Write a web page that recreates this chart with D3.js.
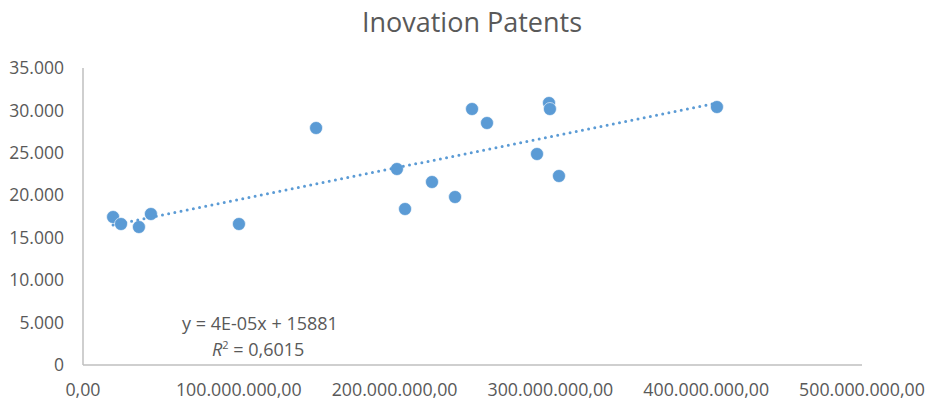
<!DOCTYPE html>
<html><head><meta charset="utf-8">
<script src="https://cdn.jsdelivr.net/npm/d3@7"></script>
<style>body{margin:0;background:#fff}svg{display:block}text{font-family:"Open Sans",sans-serif;fill:#595959}</style>
</head><body><svg id="c" width="927" height="401"></svg>
<script>
const title = "Inovation Patents";
const xValues = [19.3e6, 24.4e6, 35.9e6, 43.6e6, 100.1e6, 149.6e6, 201.5e6, 206.7e6, 224.0e6, 238.8e6, 249.7e6, 259.3e6, 291.4e6, 299.1e6, 299.7e6, 305.5e6, 406.9e6];
const yValues = [17440, 16616, 16262, 17794, 16616, 27929, 23097, 18383, 21565, 19797, 30167, 28518, 24865, 30874, 30167, 22272, 30403];
const xTicks = [0, 100e6, 200e6, 300e6, 400e6, 500e6];
const yTicks = [0, 5000, 10000, 15000, 20000, 25000, 30000, 35000];
const equationText = "y = 4E-05x + 15881";
const r2Text = "0,6015";

const svg = d3.select("#c");
const x = d3.scaleLinear().domain([0, 500e6]).range([83, 862]);
const y = d3.scaleLinear().domain([0, 35000]).range([365, 68]);

const fmtY = v => v === 0 ? "0" : d3.format(",")(v).replace(/,/g, ".");
const fmtX = v => v === 0 ? "0,00" : d3.format(",")(v).replace(/,/g, ".") + ",00";

svg.append("text").attr("x", 472).attr("y", 32).attr("text-anchor", "middle")
  .style("font-size", "27px").text(title);

// axes lines
svg.append("line").attr("x1", x(0)).attr("x2", x(0)).attr("y1", y(35000)).attr("y2", y(0))
  .attr("stroke", "#bfbfbf").attr("stroke-width", 1.5);
svg.append("line").attr("x1", x(0)).attr("x2", x(500e6)).attr("y1", y(0)).attr("y2", y(0))
  .attr("stroke", "#bfbfbf").attr("stroke-width", 1.5);

svg.selectAll(".yl").data(yTicks).join("text").attr("class", "yl")
  .attr("x", 64).attr("y", d => y(d)).attr("dy", "0.35em").attr("text-anchor", "end")
  .style("font-size", "17.5px").text(fmtY);
svg.selectAll(".xl").data(xTicks).join("text").attr("class", "xl")
  .attr("x", d => x(d)).attr("y", 396).attr("text-anchor", "middle")
  .style("font-size", "17.8px").text(fmtX);

// linear regression trendline
const n = xValues.length;
const mx = d3.mean(xValues), my = d3.mean(yValues);
let sxy = 0, sxx = 0;
for (let i = 0; i < n; i++) { sxy += (xValues[i]-mx)*(yValues[i]-my); sxx += (xValues[i]-mx)**2; }
const slope = sxy / sxx, icpt = my - slope * mx;
const x0 = d3.min(xValues), x1 = d3.max(xValues);

const pts = xValues.map((v, i) => [v, yValues[i]]);
svg.selectAll(".pt").data(pts).join("circle").attr("class", "pt")
  .attr("cx", d => x(d[0])).attr("cy", d => y(d[1])).attr("r", 6.5)
  .attr("fill", "#5b9bd5").attr("stroke", "#ffffff").attr("stroke-width", 0.6);

svg.append("line").attr("x1", x(x0)).attr("y1", y(slope*x0+icpt)).attr("x2", x(x1)).attr("y2", y(slope*x1+icpt))
  .attr("stroke", "#5b9bd5").attr("stroke-width", 3).attr("stroke-linecap", "round")
  .attr("stroke-dasharray", "0 6.3");

const eq = svg.append("text").attr("x", 182).attr("y", 330).style("font-size", "18px").text(equationText);
const r2 = svg.append("text").attr("x", 212).attr("y", 356).style("font-size", "18px");
r2.append("tspan").style("font-style", "italic").text("R");
r2.append("tspan").attr("dy", -7).style("font-size", "11px").text("2");
r2.append("tspan").attr("dy", 7).text(" = " + r2Text);
</script></body></html>
